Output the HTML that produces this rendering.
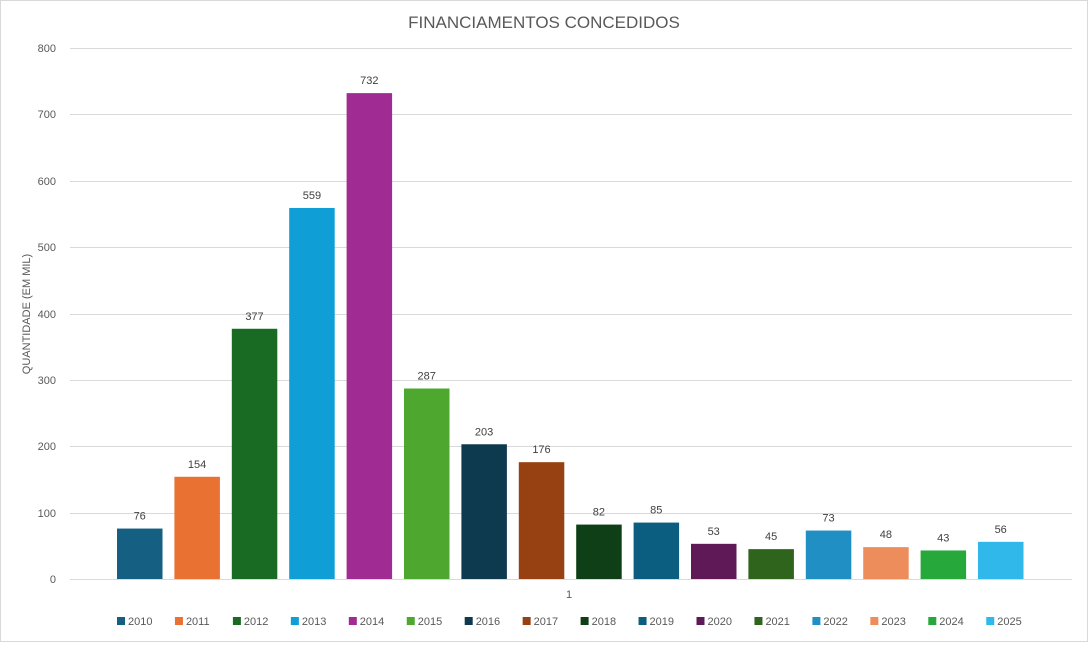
<!DOCTYPE html>
<html><head><meta charset="utf-8"><style>
body{margin:0;background:#fff;font-family:"Liberation Sans",sans-serif;}
</style></head><body>
<svg width="1088" height="642" xmlns="http://www.w3.org/2000/svg" font-family="Liberation Sans, sans-serif">
<rect x="0.5" y="0.5" width="1087" height="641" fill="#fff" stroke="#d9d9d9"/>
<text x="544" y="28" text-anchor="middle" font-size="17" fill="#595959">FINANCIAMENTOS CONCEDIDOS</text>
<g stroke="#d9d9d9" stroke-width="1">
<line x1="70" x2="1072" y1="48.5" y2="48.5"/>
<line x1="70" x2="1072" y1="114.5" y2="114.5"/>
<line x1="70" x2="1072" y1="181.5" y2="181.5"/>
<line x1="70" x2="1072" y1="247.5" y2="247.5"/>
<line x1="70" x2="1072" y1="314.5" y2="314.5"/>
<line x1="70" x2="1072" y1="380.5" y2="380.5"/>
<line x1="70" x2="1072" y1="446.5" y2="446.5"/>
<line x1="70" x2="1072" y1="513.5" y2="513.5"/>
<line x1="70" x2="1072" y1="579.5" y2="579.5"/>
</g>
<g font-size="11" fill="#595959" text-anchor="end">
<text x="56" y="52">800</text><text x="56" y="118">700</text><text x="56" y="185">600</text>
<text x="56" y="251">500</text><text x="56" y="318">400</text><text x="56" y="384">300</text>
<text x="56" y="450">200</text><text x="56" y="517">100</text><text x="56" y="583">0</text>
</g>
<text transform="translate(30,314) rotate(-90)" text-anchor="middle" font-size="11" fill="#595959">QUANTIDADE (EM MIL)</text>
<text x="569" y="598" text-anchor="middle" font-size="11" fill="#595959">1</text>
<g id="bars"></g>
<g id="labels" font-size="11" fill="#404040" text-anchor="middle"></g>
<g id="legend" font-size="11" fill="#595959"></g>
<script>
var v=[76,154,377,559,732,287,203,176,82,85,53,45,73,48,43,56];
var c=["#156082","#e97132","#196b24","#0f9ed5","#a02b93","#4ea72e","#0e3a50","#974113","#0f3f17","#0b5e80","#601957","#2e641c","#1f8fc4","#ee8d5c","#27a83a","#31b8ea"];
var ns="http://www.w3.org/2000/svg",b=document.getElementById("bars"),l=document.getElementById("labels"),g=document.getElementById("legend");
for(var i=0;i<16;i++){
 var x=117+i*57.4,h=v[i]*0.66375,y=579-h;
 var r=document.createElementNS(ns,"rect");r.setAttribute("x",x);r.setAttribute("y",y);r.setAttribute("width",45.5);r.setAttribute("height",h);r.setAttribute("fill",c[i]);b.appendChild(r);
 var t=document.createElementNS(ns,"text");t.setAttribute("x",x+22.7);t.setAttribute("y",y-9);t.textContent=v[i];l.appendChild(t);
 var lx=117+i*57.95;
 var s=document.createElementNS(ns,"rect");s.setAttribute("x",lx);s.setAttribute("y",617);s.setAttribute("width",8);s.setAttribute("height",8);s.setAttribute("fill",c[i]);g.appendChild(s);
 var lt=document.createElementNS(ns,"text");lt.setAttribute("x",lx+11);lt.setAttribute("y",625);lt.textContent=2010+i;g.appendChild(lt);
}
</script>
</svg>
</body></html>
